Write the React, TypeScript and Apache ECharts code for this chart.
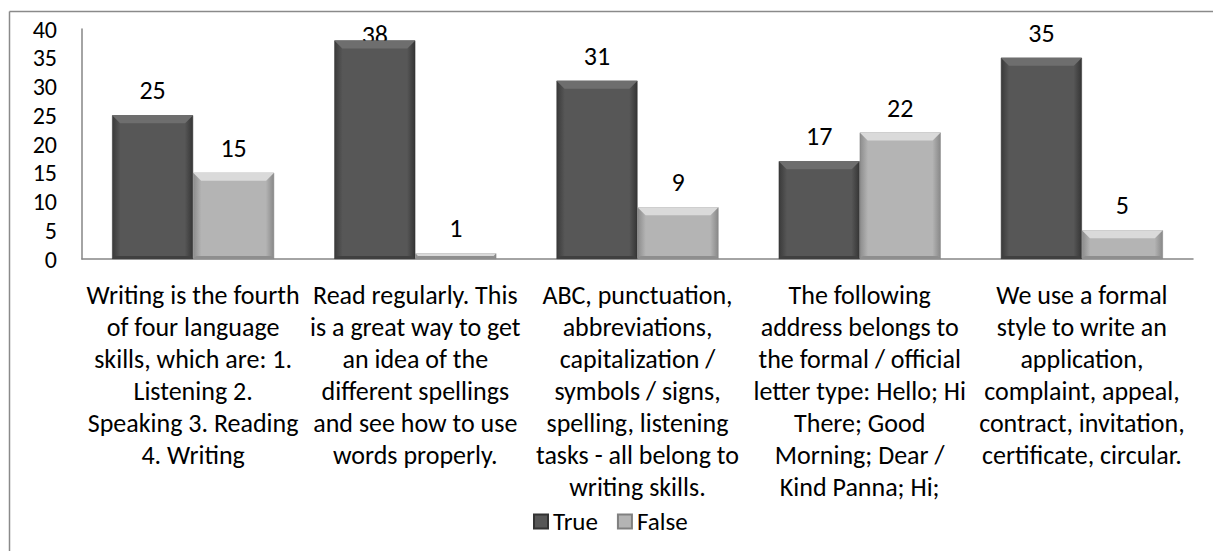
import React, { useEffect, useRef } from "react";
import * as echarts from "echarts";

const categories = [
  "Writing is the fourth\nof four language\nskills, which are: 1.\nListening 2.\nSpeaking 3. Reading\n4. Writing",
  "Read regularly. This\nis a great way to get\nan idea of the\ndifferent spellings\nand see how to use\nwords properly.",
  "ABC, punctuation,\nabbreviations,\ncapitalization /\nsymbols / signs,\nspelling, listening\ntasks - all belong to\nwriting skills.",
  "The following\naddress belongs to\nthe formal / official\nletter type: Hello; Hi\nThere; Good\nMorning; Dear /\nKind Panna; Hi;",
  "We use a formal\nstyle to write an\napplication,\ncomplaint, appeal,\ncontract, invitation,\ncertificate, circular.",
];
const trueValues = [25, 38, 31, 17, 35];
const falseValues = [15, 1, 9, 22, 5];
const seriesNames = ["True", "False"];

const FONT = "Carlito, Lato, 'Noto Sans', sans-serif";
const BAR_W = 81;

const darkFill = new echarts.graphic.LinearGradient(0, 0, 1, 0, [
  { offset: 0, color: "#3a3a3a" },
  { offset: 0.1, color: "#575757" },
  { offset: 0.9, color: "#575757" },
  { offset: 1, color: "#353535" },
]);
const lightFill = new echarts.graphic.LinearGradient(0, 0, 1, 0, [
  { offset: 0, color: "#8c8c8c" },
  { offset: 0.1, color: "#b4b4b4" },
  { offset: 0.9, color: "#b4b4b4" },
  { offset: 1, color: "#888888" },
]);

export default function App() {
  const ref = useRef<HTMLDivElement>(null);
  useEffect(() => {
    if (!ref.current) return;
    const chart = echarts.init(ref.current, null, { renderer: "svg" });
    const bevelData: number[][] = [];
    trueValues.forEach((v, i) => bevelData.push([i, v, 0]));
    falseValues.forEach((v, i) => bevelData.push([i, v, 1]));

    chart.setOption({
      animation: false,
      backgroundColor: "#ffffff",
      textStyle: { fontFamily: FONT },
      graphic: [
        { type: "line", shape: { x1: 9.5, y1: 11.5, x2: 1213, y2: 11.5 }, style: { stroke: "#8a8a8a", lineWidth: 1.5 } },
        { type: "line", shape: { x1: 9.5, y1: 11.5, x2: 9.5, y2: 551 }, style: { stroke: "#8a8a8a", lineWidth: 1.5 } },
      ],
      legend: {
        data: seriesNames,
        bottom: 12,
        left: 528,
        itemWidth: 14,
        itemHeight: 14,
        itemGap: 19,
        icon: "rect",
        textStyle: { fontSize: 25, color: "#000", fontFamily: FONT },
      },
      grid: { left: 82, right: 20, top: 29, bottom: 292, containLabel: false },
      xAxis: {
        type: "category",
        data: categories,
        axisLine: { lineStyle: { color: "#868686", width: 1.5 } },
        axisTick: { show: false },
        axisLabel: {
          interval: 0,
          margin: 20,
          fontSize: 26,
          lineHeight: 32,
          color: "#000",
          fontFamily: FONT,
          align: "center",
        },
      },
      yAxis: {
        type: "value",
        min: 0,
        max: 40,
        interval: 5,
        splitLine: { show: false },
        axisLine: { show: true, lineStyle: { color: "#868686", width: 1.5 } },
        axisTick: { show: false },
        axisLabel: { margin: 25, fontSize: 24, color: "#000", fontFamily: FONT },
      },
      series: [
        {
          name: "True",
          type: "bar",
          barWidth: BAR_W,
          barGap: "0%",
          data: trueValues.map((v) => (v === 38 ? { value: v, label: { distance: -7 } } : v)),
          itemStyle: { color: darkFill, borderColor: "#333333", borderWidth: 0.5 },
          label: { show: true, position: "top", distance: 12, fontSize: 26, color: "#000", fontFamily: FONT },
        },
        {
          name: "False",
          type: "bar",
          barWidth: BAR_W,
          barGap: "0%",
          data: falseValues,
          itemStyle: { color: lightFill, borderColor: "#808080", borderWidth: 0.5 },
          label: { show: true, position: "top", distance: 12, fontSize: 26, color: "#000", fontFamily: FONT },
        },
        {
          type: "custom",
          silent: true,
          z: 3,
          data: bevelData,
          renderItem: (params: any, api: any) => {
            const idx = api.value(0);
            const val = api.value(1);
            const s = api.value(2);
            const top = api.coord([idx, val]);
            const base = api.coord([idx, 0]);
            const x0 = top[0] + (s === 0 ? -BAR_W : 0);
            const x1 = x0 + BAR_W;
            const y0 = top[1];
            const y1 = base[1];
            const b = Math.min(8, (y1 - y0) / 2);
            const topColor = s === 0 ? "#6e6e6e" : "#dadada";
            const botColor = s === 0 ? "#404040" : "#8e8e8e";
            return {
              type: "group",
              children: [
                {
                  type: "polygon",
                  shape: { points: [[x0, y0], [x1, y0], [x1 - b, y0 + b], [x0 + b, y0 + b]] },
                  style: { fill: topColor },
                },
                {
                  type: "polygon",
                  shape: { points: [[x0, y1], [x1, y1], [x1 - 3, y1 - 3], [x0 + 3, y1 - 3]] },
                  style: { fill: botColor },
                },
              ],
            };
          },
        },
      ],
    });
    return () => chart.dispose();
  }, []);
  return (
    <div
      ref={ref}
      style={{ position: "absolute", left: 0, top: 0, width: 1213, height: 551 }}
    />
  );
}
